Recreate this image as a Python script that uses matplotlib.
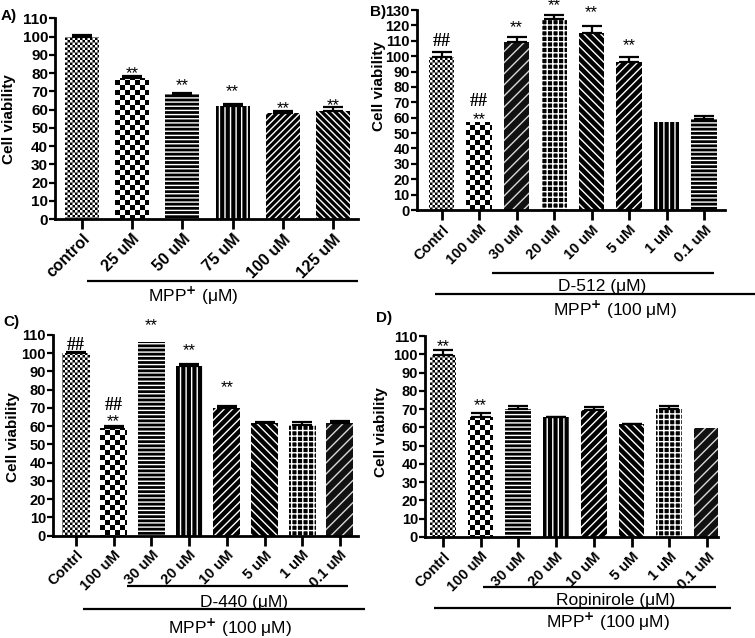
import warnings
warnings.filterwarnings('ignore')
import numpy as np
import matplotlib
matplotlib.use('Agg')
import matplotlib.pyplot as plt
import matplotlib.hatch as mhatch
from matplotlib.path import Path
from matplotlib.lines import Line2D

# ---------------- data ----------------
a_labels = ['control', '25 uM', '50 uM', '75 uM', '100 uM', '125 uM']
a_values = [99.8, 77.1, 68.3, 61.9, 58.3, 59.2]
a_err = [1.3, 1.3, 1.0, 1.1, 0.9, 2.4]
a_marks = ['', '**', '**', '**', '**', '**']

b_labels = ['Contrl', '100 uM', '30 uM', '20 uM', '10 uM', '5 uM', '1 uM', '0.1 uM']
b_values = [99.7, 57.4, 109.4, 124.3, 115.3, 96.4, 57.3, 59.3]
b_err = [3.2, 0.0, 2.8, 2.6, 4.3, 2.8, 0.0, 1.5]
b_marks = ['##', '##\n**', '**', '**', '**', '**', '', '']

c_labels = ['Contrl', '100 uM', '30 uM', '20 uM', '10 uM', '5 uM', '1 uM', '0.1 uM']
c_values = [99.9, 58.8, 106.0, 93.0, 69.8, 61.6, 60.7, 61.9]
c_err = [1.0, 1.3, 0.0, 0.9, 1.3, 0.7, 1.4, 1.0]
c_marks = ['##', '##\n**', '**', '**', '**', '', '', '']

d_labels = ['Contrl', '100 uM', '30 uM', '20 uM', '10 uM', '5 uM', '1 uM', '0.1 uM']
d_values = [99.6, 65.9, 69.9, 65.6, 69.6, 61.7, 69.9, 59.6]
d_err = [2.7, 2.2, 2.0, 0.3, 1.8, 0.4, 1.9, 0.0]
d_marks = ['**', '**', '', '', '', '', '', '']

# ---------------- custom checkerboard hatch ----------------
HATCH_LW = 1.0
plt.rcParams['hatch.linewidth'] = HATCH_LW


class CheckerHatch(mhatch.HatchPatternBase):
    def __init__(self, hatch, density):
        self.n = 2 * hatch.count('c')
        self.num_vertices = (self.n * self.n // 2) * 5 if self.n else 0

    def set_vertices_and_codes(self, vertices, codes):
        n = self.n
        s = 1.0 / n
        e = min(0.5 * HATCH_LW / 72.0, 0.45 * s)
        k = 0
        sq_codes = [Path.MOVETO, Path.LINETO, Path.LINETO, Path.LINETO, Path.CLOSEPOLY]
        for i in range(n):
            for j in range(n):
                if (i + j) % 2 == 0:
                    x0, x1 = i * s + e, (i + 1) * s - e
                    y0, y1 = j * s + e, (j + 1) * s - e
                    vertices[k:k + 5] = [[x0, y0], [x1, y0], [x1, y1], [x0, y1], [x0, y0]]
                    codes[k:k + 5] = sq_codes
                    k += 5


mhatch._hatch_types.append(CheckerHatch)

# pattern styles: (hatch, face, hatchcolor)
STY = {
    'fine': ('c' * 20, 'white', 'black'),
    'check': ('c' * 10, 'white', 'black'),
    'hline': ('----', 'black', 'white'),
    'vline': ('|||', 'black', 'white'),
    'ne5': ('/////', 'black', 'white'),
    'se5': ('\\\\\\\\\\', 'black', 'white'),
    'ne': ('////', 'black', 'white'),
    'se': ('\\\\\\\\', 'black', 'white'),
    'grid': ('+++', 'black', 'white'),
    'brick': ('///', '#111111', '#d8d8d8'),
}

W, H = 755, 638
fig = plt.figure(figsize=(W / 100, H / 100), dpi=100)

SANS = ['Liberation Sans', 'DejaVu Sans']
STAR_C = 0.42   # glyph centre of '*' above baseline (em)
HASH_C = 0.34


def px_axes(l, r, t, b):
    return fig.add_axes([l / W, 1 - b / H, (r - l) / W, (b - t) / H])


def fig_line(x0, x1, y):
    fig.add_artist(Line2D([x0 / W, x1 / W], [1 - y / H, 1 - y / H],
                          transform=fig.transFigure, color='black', lw=1.6,
                          solid_capstyle='butt'))


def fig_text(x, y, s, size=12.5):
    fig.text(x / W, 1 - y / H, s, ha='center', va='center', fontsize=size,
             family=SANS)


def put_mark(ax, xi, top, s, off_px):
    if s == '##':
        ax.annotate(s, xy=(xi, top), xytext=(0, off_px * 0.72 - HASH_C * 13),
                    textcoords='offset points', ha='center', va='baseline',
                    fontsize=13, family=['Liberation Serif', 'DejaVu Serif'],
                    fontweight='bold', annotation_clip=False)
    else:
        ax.annotate(s, xy=(xi, top), xytext=(0, off_px * 0.72 - STAR_C * 12),
                    textcoords='offset points', ha='center', va='baseline',
                    fontsize=12, family=SANS, annotation_clip=False)


def panel(rect, labels, values, err, marks, styles, width, xlim, ymax,
          ytick_fs, xtick_fs, mark_off, ylabel_pos):
    ax = px_axes(*rect)
    x = np.arange(len(values))
    bars = ax.bar(x, values, width=width, linewidth=0, zorder=2)
    for p, st in zip(bars.patches, styles):
        h, fc, hc = STY[st]
        p.set_facecolor(fc)
        p.set_edgecolor(hc)
        p.set_hatch(h)
        p.set_linewidth(0)
    xe = [xi for xi, e in zip(x, err) if e > 0]
    ye = [v for v, e in zip(values, err) if e > 0]
    ee = [e for e in err if e > 0]
    ax.errorbar(xe, ye, yerr=[np.zeros(len(ee)), ee], fmt='none',
                ecolor='black', elinewidth=1.6, capsize=7, capthick=1.6,
                zorder=3)
    for xi, v, e, m, off in zip(x, values, err, marks, mark_off):
        if not m:
            continue
        top = v + e
        for s, o in zip(m.split('\n')[::-1], off):
            put_mark(ax, xi, top, s, o)
    ax.set_xlim(*xlim)
    ax.set_ylim(0, ymax)
    ax.set_yticks(np.arange(0, ymax + 1, 10))
    ax.set_xticks(x)
    ax.set_xticklabels(labels, rotation=45, ha='right', rotation_mode='anchor',
                       fontsize=xtick_fs, fontweight='bold', family=SANS)
    for t in ax.get_yticklabels():
        t.set_fontsize(ytick_fs)
        t.set_fontweight('bold')
        t.set_family(SANS)
    for s in ['top', 'right']:
        ax.spines[s].set_visible(False)
    for s in ['left', 'bottom']:
        ax.spines[s].set_linewidth(2.0)
    ax.tick_params(axis='y', length=4, width=1.6, pad=1)
    ax.tick_params(axis='x', length=7, width=2.0, pad=2)
    ax.set_ylabel('Cell viability', fontsize=11, fontweight='bold', family=SANS)
    ax.yaxis.set_label_coords(*ylabel_pos)
    return ax


# Panel A
l, r, t, b = 55, 358, 18.3, 219
panel((l, r, t, b), a_labels, a_values, a_err, a_marks,
      ['fine', 'check', 'hline', 'vline', 'ne5', 'se5'], 0.68, (-0.54, 5.5), 110,
      11, 11.5, [None, (5,), (9,), (15,), (5,), (3,)],
      ((16 - l) / (r - l), 0.5))
fig_line(87, 358, 281)
fig_text(193, 296, 'MPP$^{\\mathbf{+}}$ (μM)')

# Panel B
l, r, t, b = 416.7, 725, 10, 210
panel((l, r, t, b), b_labels, b_values, b_err, b_marks,
      ['fine', 'check', 'brick', 'grid', 'se', 'ne', 'vline', 'hline'], 0.68,
      (-0.667, 7.56), 130, 10.5, 10.5,
      [(11.5,), (5, 21.5), (12.7,), (11.3,), (16,), (14.4,), None, None],
      ((386 - l) / (r - l), 0.62))
fig_line(492, 714, 272.7)
fig_text(602, 286, 'D-512 (μM)')
fig_line(435, 755, 294)
fig_text(615, 310, 'MPP$^{\\mathbf{+}}$ (100 μM)')

# Panel C
l, r, t, b = 53, 358, 335, 535.7
panel((l, r, t, b), c_labels, c_values, c_err, c_marks,
      ['fine', 'check', 'hline', 'vline', 'ne', 'se', 'grid', 'brick'], 0.72,
      (-0.61, 7.48), 110, 10.5, 10.5,
      [(8,), (7, 22), (19,), (16,), (21,), None, None, None],
      ((20 - l) / (r - l), 0.49))
fig_line(127, 348, 585.7)
fig_text(244, 603, 'D-440 (μM)')
fig_line(83, 365, 609)
fig_text(230, 628, 'MPP$^{\\mathbf{+}}$ (100 μM)')

# Panel D
l, r, t, b = 425, 718, 336, 537
panel((l, r, t, b), d_labels, d_values, d_err, d_marks,
      ['fine', 'check', 'hline', 'vline', 'ne', 'se', 'grid', 'brick'], 0.68,
      (-0.47, 7.29), 110, 10.5, 10.5,
      [(6.4,), (9,), None, None, None, None, None, None],
      ((388 - l) / (r - l), 0.52))
fig_line(483, 716, 587)
fig_text(616, 600, 'Ropinirole (μM)')
fig_line(434, 731, 608)
fig_text(608, 622, 'MPP$^{\\mathbf{+}}$ (100 μM)')

# panel letters
PL = ['Liberation Sans Narrow', 'Liberation Sans', 'DejaVu Sans']
for s, xx, yy in [('A)', 1, 16), ('B)', 370, 12), ('C)', 3, 322), ('D)', 376, 318)]:
    fig.text(xx / W, 1 - yy / H, s, ha='left', va='center', fontsize=11,
             fontweight='bold', family=PL)

fig.savefig('out.png', dpi=100)
